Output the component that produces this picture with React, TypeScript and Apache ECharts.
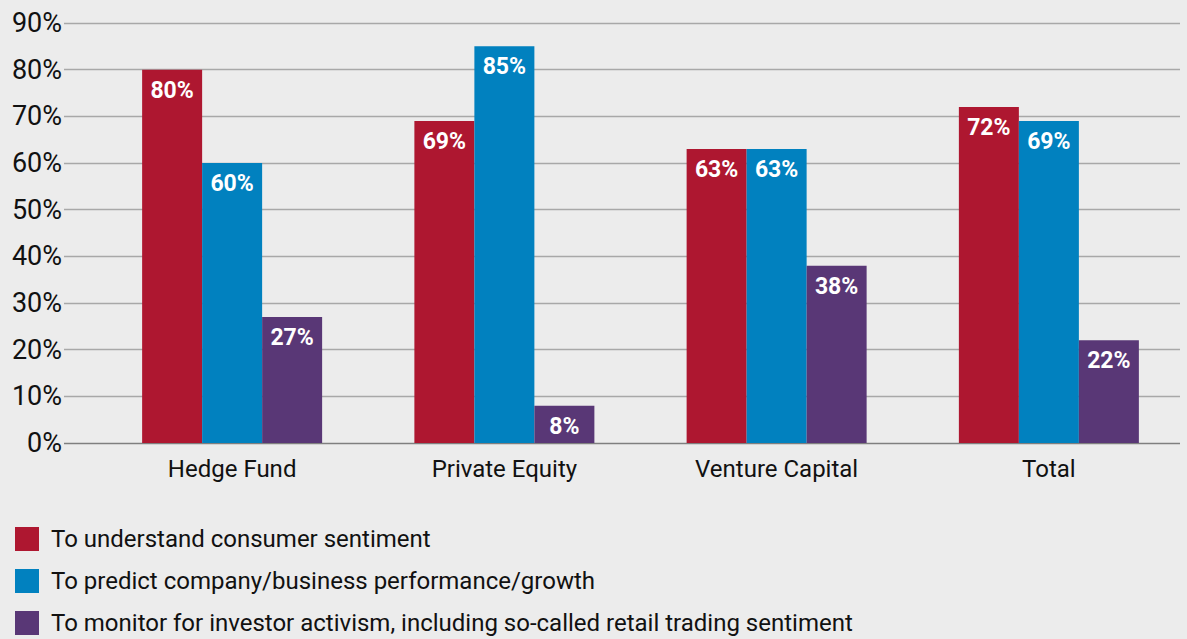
import React, { useEffect, useRef } from "react";
import * as echarts from "echarts";

const categories = ["Hedge Fund", "Private Equity", "Venture Capital", "Total"];
const seriesNames = [
  "To understand consumer sentiment",
  "To predict company/business performance/growth",
  "To monitor for investor activism, including so-called retail trading sentiment",
];
const consumerSentiment = [80, 69, 63, 72];
const predictPerformance = [60, 85, 63, 69];
const investorActivism = [27, 8, 38, 22];
const seriesColors = ["#ae1730", "#0181bf", "#593776"];
const yTicks = [0, 10, 20, 30, 40, 50, 60, 70, 80, 90];

export default function App() {
  const ref = useRef<HTMLDivElement>(null);
  useEffect(() => {
    if (!ref.current) return;
    const chart = echarts.init(ref.current, undefined, { renderer: "svg" });
    const values = [consumerSentiment, predictPerformance, investorActivism];
    const font = "Roboto";
    chart.setOption({
      animation: false,
      backgroundColor: "#ececec",
      textStyle: { fontFamily: font },
      grid: [
        { left: 64, right: 7, top: 23, bottom: 196 },
        { left: 96, right: 2, top: 23, bottom: 196 },
      ],
      xAxis: [
        { type: "category", gridIndex: 0, data: categories, show: false },
        {
          type: "category",
          gridIndex: 1,
          data: categories,
          axisLine: { show: false },
          axisTick: { show: false },
          axisLabel: { color: "#111", fontSize: 24, margin: 14, fontFamily: font },
        },
      ],
      yAxis: [
        {
          type: "value",
          gridIndex: 0,
          min: 0,
          max: 90,
          interval: 10,
          axisLine: { show: false },
          axisTick: { show: false },
          axisLabel: {
            color: "#111",
            fontSize: 27,
            margin: 2,
            fontFamily: font,
            formatter: (v: number) => v + "%",
          },
          splitLine: {
            lineStyle: {
              width: 1.3,
              color: yTicks.map((t) => (t === 0 ? "#7f7f7f" : "#a8a8a8")),
            },
          },
        },
        { type: "value", gridIndex: 1, min: 0, max: 90, interval: 10, show: false, splitLine: { show: false } },
      ],
      legend: {
        orient: "vertical",
        left: 15,
        top: 527,
        padding: 0,
        height: 110,
        itemWidth: 24,
        itemHeight: 24,
        itemGap: 18,
        icon: "rect",
        data: seriesNames,
        textStyle: { color: "#111", fontSize: 24, fontFamily: font, padding: [0, 0, 0, 7] },
      },
      series: seriesNames.map((name, i) => ({
        name,
        type: "bar",
        xAxisIndex: 1,
        yAxisIndex: 1,
        data: values[i],
        barWidth: 60,
        barGap: "0%",
        itemStyle: { color: seriesColors[i] },
        label: {
          show: true,
          position: "insideTop",
          distance: 9,
          color: "#fff",
          fontWeight: "bold",
          fontSize: 23,
          fontFamily: font,
          formatter: (p: any) => p.value + "%",
        },
      })),
    });
    return () => chart.dispose();
  }, []);
  return (
    <div
      ref={ref}
      style={{ position: "absolute", left: 0, top: 0, width: 1187, height: 639 }}
    />
  );
}
